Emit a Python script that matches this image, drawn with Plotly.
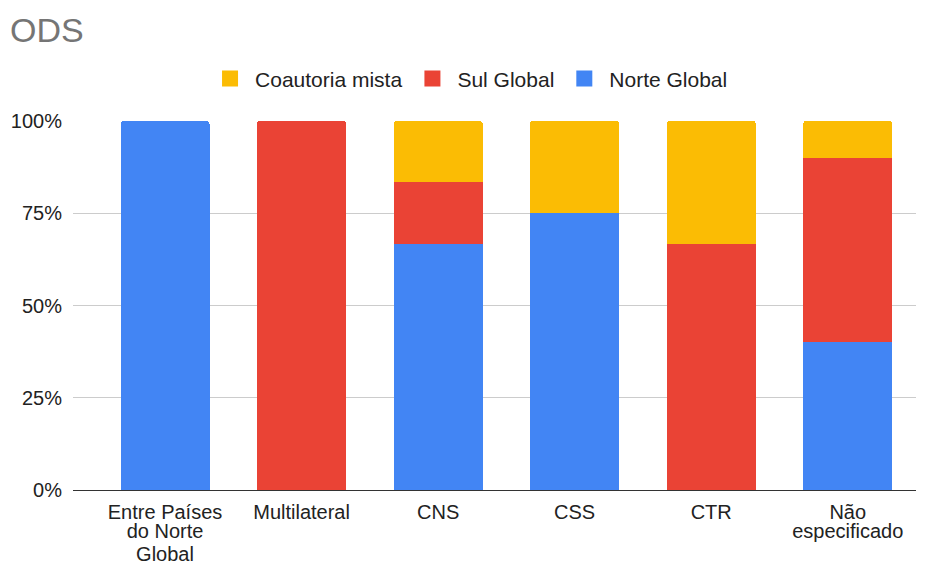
import plotly.graph_objects as go

# Share of each cooperation type by authorship origin (%)
categories = [
    "Entre Países\ndo Norte\nGlobal",
    "Multilateral",
    "CNS",
    "CSS",
    "CTR",
    "Não\nespecificado",
]
norte_global = [100, 0, 66.7, 75, 0, 40]
sul_global = [0, 100, 16.7, 0, 66.7, 50]
coautoria_mista = [0, 0, 16.6, 25, 33.3, 10]

series = [
    ("Norte Global", norte_global, "#4285F4"),
    ("Sul Global", sul_global, "#EA4335"),
    ("Coautoria mista", coautoria_mista, "#FBBC04"),
]

y_ticks = [0, 25, 50, 75, 100]
y_tick_labels = ["0%", "25%", "50%", "75%", "100%"]

FONT = "Liberation Sans, Arial, sans-serif"
TEXT = "#222222"
X_LABEL_SIZE = 20
X_LINE_STEP = 23  # line spacing for the wrapped category labels

positions = list(range(len(categories)))
x_range = [-0.674, 5.5]

fig = go.Figure()
for name, values, color in series:
    fig.add_trace(go.Bar(
        x=positions,
        y=values,
        name=name,
        marker=dict(color=color, line=dict(width=0)),
        width=0.652,
        showlegend=False,
        hovertemplate="%{y}%<extra>" + name + "</extra>",
    ))

# Legend entries with larger square swatches
for name, values, color in series:
    fig.add_trace(go.Scatter(
        x=[None], y=[None], mode="markers", name=name,
        marker=dict(symbol="square", size=16, color=color),
        hoverinfo="skip",
    ))

# Category labels: one axis per text line so the lines sit closer together
split_labels = [c.split("\n") for c in categories]
n_lines = max(len(s) for s in split_labels)
axis_updates = {}
for i in range(n_lines):
    line_text = [s[i] if i < len(s) else "" for s in split_labels]
    ax = dict(
        range=x_range,
        tickmode="array",
        tickvals=positions,
        ticktext=line_text,
        tickfont=dict(family=FONT, size=X_LABEL_SIZE, color=TEXT),
        ticklabelstandoff=4 + i * X_LINE_STEP,
        showgrid=False,
        ticks="",
        zeroline=False,
        automargin=False,
        fixedrange=True,
    )
    if i == 0:
        ax.update(showline=True, linecolor="#333333", linewidth=1)
        axis_updates["xaxis"] = ax
    else:
        ax.update(showline=False, overlaying="x", anchor="y", side="bottom")
        axis_updates[f"xaxis{i + 1}"] = ax
        # an invisible trace keeps the extra axis drawn
        fig.add_trace(go.Scatter(
            x=[None], y=[None], xaxis=f"x{i + 1}", yaxis="y",
            showlegend=False, hoverinfo="skip",
        ))

fig.update_layout(
    width=928,
    height=561,
    barmode="stack",
    barcornerradius=3,
    plot_bgcolor="white",
    paper_bgcolor="white",
    margin=dict(l=73, r=12, t=121, b=71),
    font=dict(family=FONT, size=20, color=TEXT),
    title=dict(
        text="ODS",
        font=dict(family=FONT, size=34, color="#757575"),
        xref="container", x=10 / 928, xanchor="left",
        yref="container", y=1 - 30 / 561, yanchor="middle",
        automargin=False,
    ),
    legend=dict(
        orientation="h",
        traceorder="reversed",
        itemwidth=40,
        x=0.4698, xanchor="center",
        y=1.114, yanchor="middle",
        font=dict(family=FONT, size=21, color=TEXT),
        bgcolor="rgba(0,0,0,0)",
    ),
    yaxis=dict(
        range=[0, 100],
        tickmode="array",
        tickvals=y_ticks,
        ticktext=y_tick_labels,
        tickfont=dict(family=FONT, size=20, color=TEXT),
        showgrid=True,
        gridcolor="#cccccc",
        gridwidth=1,
        zeroline=False,
        showline=False,
        ticks="",
        ticklabelstandoff=10,
        automargin=False,
        fixedrange=True,
    ),
    **axis_updates,
)

fig.write_html("out.html")
